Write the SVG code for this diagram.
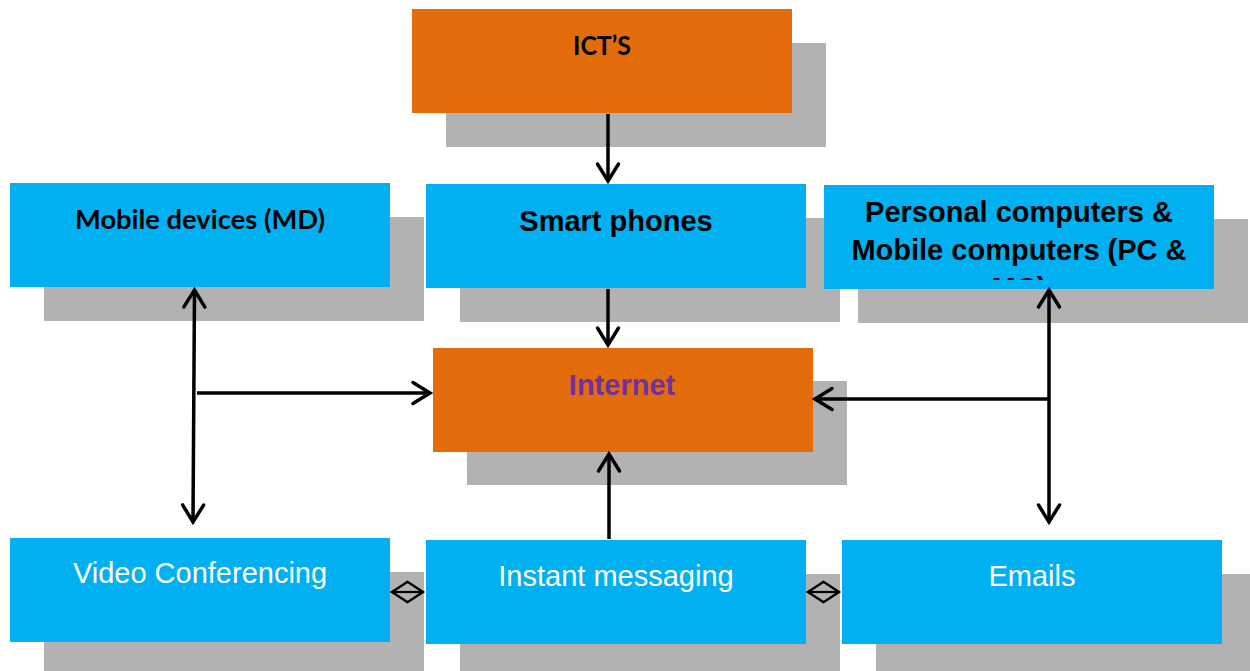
<svg xmlns="http://www.w3.org/2000/svg" width="1250" height="671" viewBox="0 0 1250 671">
<style>
.sh{fill:#B2B2B2}
.or{fill:#E36C0A}
.bl{fill:#00B0F0}
.cal{font-family:Lato,"Open Sans","Liberation Sans",sans-serif;font-weight:bold;font-size:26px;fill:#000;text-anchor:middle}
.ab{font-family:"Liberation Sans",Arial,sans-serif;font-weight:bold;font-size:29px;fill:#000;text-anchor:middle}
.aw{font-family:"Liberation Sans",Arial,sans-serif;font-size:29px;fill:#FFF;text-anchor:middle}
.ln{stroke:#000;stroke-width:3.5;fill:none}
.ln2{stroke:#000;stroke-width:2.2;fill:none}
</style>
<defs>
<marker id="ah" markerUnits="userSpaceOnUse" markerWidth="40" markerHeight="40" refX="0" refY="0" viewBox="-20 -20 40 40" orient="auto-start-reverse" overflow="visible">
<path d="M-17,-10.5 L0,0 L-17,10.5" stroke="#000" stroke-width="3.5" fill="none" stroke-linecap="round" stroke-linejoin="miter"/>
</marker>
<marker id="ah2" markerUnits="userSpaceOnUse" markerWidth="40" markerHeight="40" refX="0" refY="0" viewBox="-20 -20 40 40" orient="auto-start-reverse" overflow="visible">
<path d="M-16,-10.5 L0,0 L-16,10.5" stroke="#000" stroke-width="2.4" fill="none"/>
</marker>
<clipPath id="pcclip"><rect x="824" y="185" width="390" height="95"/></clipPath>
</defs>

<g id="shadows">
<rect class="sh" x="446" y="43" width="380" height="104"/>
<rect class="sh" x="44" y="217" width="380" height="104"/>
<rect class="sh" x="460" y="218" width="380" height="104"/>
<rect class="sh" x="858" y="219" width="390" height="104"/>
<rect class="sh" x="467" y="381" width="380" height="104"/>
<rect class="sh" x="44" y="572" width="380" height="104"/>
<rect class="sh" x="460" y="574" width="380" height="104"/>
<rect class="sh" x="876" y="574" width="380" height="104"/>
</g>

<g id="node-icts">
<rect class="or" x="412" y="9" width="380" height="104"/>
<text class="cal" x="602" y="55" textLength="58" lengthAdjust="spacingAndGlyphs">ICT’S</text>
</g>

<g id="node-mobile-devices">
<rect class="bl" x="10" y="183" width="380" height="104"/>
<text class="cal" x="200" y="229" textLength="250" lengthAdjust="spacingAndGlyphs">Mobile devices (MD)</text>
</g>

<g id="node-smart-phones">
<rect class="bl" x="426" y="184" width="380" height="104"/>
<text class="ab" x="616" y="231">Smart phones</text>
</g>

<g id="node-pc">
<rect class="bl" x="824" y="185" width="390" height="104"/>
<g clip-path="url(#pcclip)">
<text class="ab" x="1019" y="222">Personal computers &amp;</text>
<text class="ab" x="1019" y="260">Mobile computers (PC &amp;</text>
<text class="ab" x="1019" y="298">MC)</text>
</g>
</g>

<g id="node-internet">
<rect class="or" x="433" y="348" width="380" height="104"/>
<text class="ab" x="622" y="395" style="fill:#7030A0">Internet</text>
</g>

<g id="node-video">
<rect class="bl" x="10" y="538" width="380" height="104"/>
<text class="aw" x="200" y="583">Video Conferencing</text>
</g>

<g id="node-im">
<rect class="bl" x="426" y="540" width="380" height="104"/>
<text class="aw" x="616" y="586">Instant messaging</text>
</g>

<g id="node-emails">
<rect class="bl" x="842" y="540" width="380" height="104"/>
<text class="aw" x="1032" y="586">Emails</text>
</g>

<g id="connectors">
<line class="ln" x1="608" y1="114" x2="608" y2="181" marker-end="url(#ah)"/>
<line class="ln" x1="608" y1="289" x2="608" y2="345" marker-end="url(#ah)"/>
<line class="ln" x1="609" y1="539" x2="609" y2="454" marker-end="url(#ah)"/>
<line class="ln" x1="194.5" y1="290" x2="193" y2="522" marker-start="url(#ah)" marker-end="url(#ah)"/>
<line class="ln" x1="197" y1="393" x2="430" y2="393" marker-end="url(#ah)"/>
<line class="ln" x1="1049" y1="290" x2="1049" y2="522" marker-start="url(#ah)" marker-end="url(#ah)"/>
<line class="ln" x1="1049" y1="399" x2="815" y2="399" marker-end="url(#ah)"/>
<line class="ln2" x1="392" y1="592" x2="423" y2="592" marker-start="url(#ah2)" marker-end="url(#ah2)"/>
<line class="ln2" x1="808" y1="592" x2="839" y2="592" marker-start="url(#ah2)" marker-end="url(#ah2)"/>
</g>
</svg>
